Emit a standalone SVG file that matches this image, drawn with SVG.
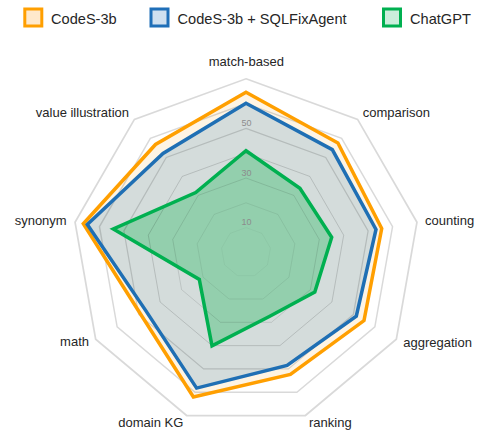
<svg xmlns="http://www.w3.org/2000/svg" xmlns:xlink="http://www.w3.org/1999/xlink" width="479" height="432" viewBox="0 0 479 432">
<style>
.lbl{font-family:"Liberation Sans",Arial,sans-serif;font-size:13px;fill:#262626}
.leg{font-family:"Liberation Sans",Arial,sans-serif;font-size:14.6px;fill:#262626}
.tick{font-family:"Liberation Sans",Arial,sans-serif;font-size:9px;fill:#8c8c8c;text-anchor:middle}
.ring{fill:none;stroke:#000;stroke-opacity:0.15;stroke-width:1;vector-effect:non-scaling-stroke}
.s{fill:none;stroke-width:3.5;stroke-linejoin:miter}
</style>
<defs>
<polygon id="nona" points="0,-100 64.28,-76.6 98.48,-17.36 86.6,50 34.2,93.97 -34.2,93.97 -86.6,50 -98.48,-17.36 -64.28,-76.6"/>
</defs>
<rect width="479" height="432" fill="#fff"/>
<g id="legend">
<g id="leg-codes">
<rect x="24.8" y="9" width="17" height="17" fill="#FFE9CC" stroke="#FF9F00" stroke-width="3"/>
<text class="leg" x="51" y="24">CodeS-3b</text>
</g>
<g id="leg-sqlfix">
<rect x="151" y="9" width="17" height="17" fill="#CFE0F0" stroke="#1F6FB8" stroke-width="3"/>
<text class="leg" x="177.5" y="24">CodeS-3b + SQLFixAgent</text>
</g>
<g id="leg-chatgpt">
<rect x="383.5" y="9" width="17" height="17" fill="#CCEEDC" stroke="#00B050" stroke-width="3"/>
<text class="leg" x="410" y="24">ChatGPT</text>
</g>
</g>
<g id="fills">
<polygon id="fill-codes" fill="#FEF4E4" points="246,92.3 337.9,142.9 381.7,228.5 364,320.6 290.4,374.5 193.4,396.9 140.2,313.5 83.3,223.7 155.5,144.5"/>
<polygon id="fill-sqlfix" fill="#D4DCDB" points="246,103.3 332.3,149.6 376,229.5 356.3,316.1 287.1,365.4 196.6,388.1 145.6,310.4 87.3,224.4 163,153.5"/>
<polygon id="fill-chatgpt" fill="#93CFAD" points="246,150.7 299.9,188.2 331.7,237.3 314.8,292.1 269.3,316.5 212,345.8 199.3,279.4 113.3,229 195.7,192.5"/>
</g>
<g id="grid">
<use xlink:href="#nona" class="ring" transform="translate(246,252.4) scale(0.248)"/>
<use xlink:href="#nona" class="ring" transform="translate(246,252.4) scale(0.496)"/>
<use xlink:href="#nona" class="ring" transform="translate(246,252.4) scale(0.744)"/>
<use xlink:href="#nona" class="ring" transform="translate(246,252.4) scale(0.992)"/>
<use xlink:href="#nona" class="ring" transform="translate(246,252.4) scale(1.24)"/>
<use xlink:href="#nona" class="ring" transform="translate(246,252.4) scale(1.488)"/>
<use xlink:href="#nona" class="ring" transform="translate(246,252.4) scale(1.736)"/>
</g>
<g id="ticks">
<text class="tick" x="246.5" y="225">10</text>
<text class="tick" x="246.5" y="175.8">30</text>
<text class="tick" x="246.5" y="126.2">50</text>
</g>
<g id="series">
<polygon id="line-codes" class="s" stroke="#FF9F00" points="246,92.3 337.9,142.9 381.7,228.5 364,320.6 290.4,374.5 193.4,396.9 140.2,313.5 83.3,223.7 155.5,144.5"/>
<polygon id="line-sqlfix" class="s" stroke="#1F6FB4" points="246,103.3 332.3,149.6 376,229.5 356.3,316.1 287.1,365.4 196.6,388.1 145.6,310.4 87.3,224.4 163,153.5"/>
<polygon id="line-chatgpt" class="s" stroke="#00B050" points="246,150.7 299.9,188.2 331.7,237.3 314.8,292.1 269.3,316.5 212,345.8 199.3,279.4 113.3,229 195.7,192.5"/>
</g>
<g id="axis-labels">
<text class="lbl" x="246.3" y="65.7" text-anchor="middle">match-based</text>
<text class="lbl" x="362.7" y="117.3">comparison</text>
<text class="lbl" x="425" y="225">counting</text>
<text class="lbl" x="403.3" y="346.5">aggregation</text>
<text class="lbl" x="309" y="426.5">ranking</text>
<text class="lbl" x="183.3" y="426.5" text-anchor="end">domain KG</text>
<text class="lbl" x="89" y="346" text-anchor="end">math</text>
<text class="lbl" x="66.7" y="225" text-anchor="end">synonym</text>
<text class="lbl" x="129" y="117.3" text-anchor="end">value illustration</text>
</g>
</svg>
